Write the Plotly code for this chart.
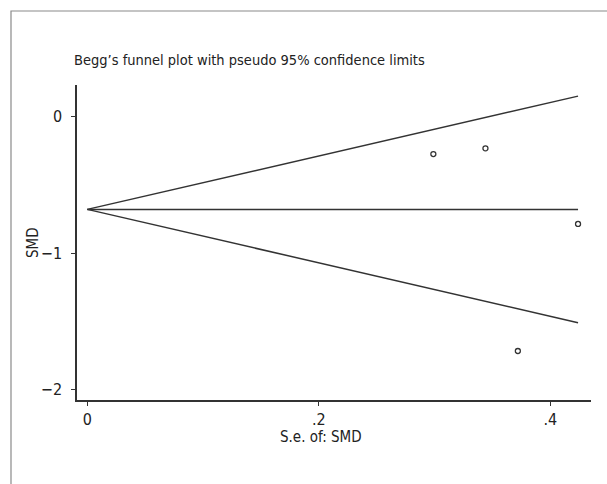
import plotly.graph_objects as go

# Data
se = [0.299, 0.344, 0.372, 0.424]
smd = [-0.274, -0.232, -1.719, -0.787]
pooled = -0.68
x_ticks = [0, 0.2, 0.4]
x_ticktext = ["0", ".2", ".4"]
y_ticks = [0, -1, -2]
y_ticktext = ["0", "\u22121", "\u22122"]
title_text = "Begg\u2019s funnel plot with pseudo 95% confidence limits"
x_title = "S.e. of: SMD"
y_title = "SMD"

FONT = "DejaVu Sans Condensed, sans-serif"
DARK = "#333333"
TXT = "#222222"

W, H = 607, 484
L, R, T, B = 77, 16, 85, 84
pw, ph = W - L - R, H - T - B

def px_x(p):
    return (p - L) / pw

def px_y(p):
    return (H - B - p) / ph

smax = max(se)
fig = go.Figure()
fig.add_trace(go.Scatter(x=[0, smax], y=[pooled, pooled + 1.96 * smax], mode="lines",
                         line=dict(color=DARK, width=1.5), hoverinfo="skip"))
fig.add_trace(go.Scatter(x=[0, smax], y=[pooled, pooled - 1.96 * smax], mode="lines",
                         line=dict(color=DARK, width=1.5), hoverinfo="skip"))
fig.add_trace(go.Scatter(x=[0, smax], y=[pooled, pooled], mode="lines",
                         line=dict(color=DARK, width=1.5), hoverinfo="skip"))
fig.add_trace(go.Scatter(x=se, y=smd, mode="markers",
                         marker=dict(symbol="circle-open", size=5, color=DARK,
                                     line=dict(width=1.3, color=DARK))))

fig.update_layout(
    width=W, height=H,
    margin=dict(l=L, r=R, t=T, b=B),
    paper_bgcolor="white", plot_bgcolor="white",
    showlegend=False,
    font=dict(family=FONT, size=15, color=TXT),
)
fig.update_xaxes(range=[-0.0089, 0.4352], tickvals=x_ticks, ticktext=x_ticktext,
                 showgrid=False, zeroline=False, showline=True, linecolor=DARK, linewidth=1.5,
                 ticks="outside", ticklen=4, tickwidth=1.2, tickcolor=DARK,
                 tickfont=dict(family=FONT, size=16, color=TXT), ticklabelstandoff=0)
fig.update_yaxes(range=[-2.0785, 0.2326], tickvals=y_ticks, ticktext=y_ticktext,
                 showgrid=False, zeroline=False, showline=True, linecolor=DARK, linewidth=1.5,
                 ticks="outside", ticklen=4, tickwidth=1.2, tickcolor=DARK,
                 tickfont=dict(family=FONT, size=16, color=TXT), ticklabelstandoff=6)

fig.add_annotation(text=title_text, xref="paper", yref="paper", x=px_x(72), y=px_y(60),
                   xanchor="left", yanchor="middle", showarrow=False,
                   font=dict(family=FONT, size=14.5, color=TXT))
fig.add_annotation(text=x_title, xref="paper", yref="paper", x=px_x(321), y=px_y(437),
                   xanchor="center", yanchor="middle", showarrow=False,
                   font=dict(family=FONT, size=15, color=TXT))
fig.add_annotation(text=y_title, xref="paper", yref="paper", x=px_x(33), y=px_y(243),
                   xanchor="center", yanchor="middle", showarrow=False, textangle=-90,
                   font=dict(family=FONT, size=15, color=TXT))

# outer frame (open to the right and bottom, clipped by the image)
fig.add_shape(type="rect", xref="paper", yref="paper",
              x0=px_x(11), x1=px_x(640), y0=px_y(520), y1=px_y(11),
              line=dict(color="#8a8a8a", width=1.2), layer="below")

fig.write_html("out.html")
